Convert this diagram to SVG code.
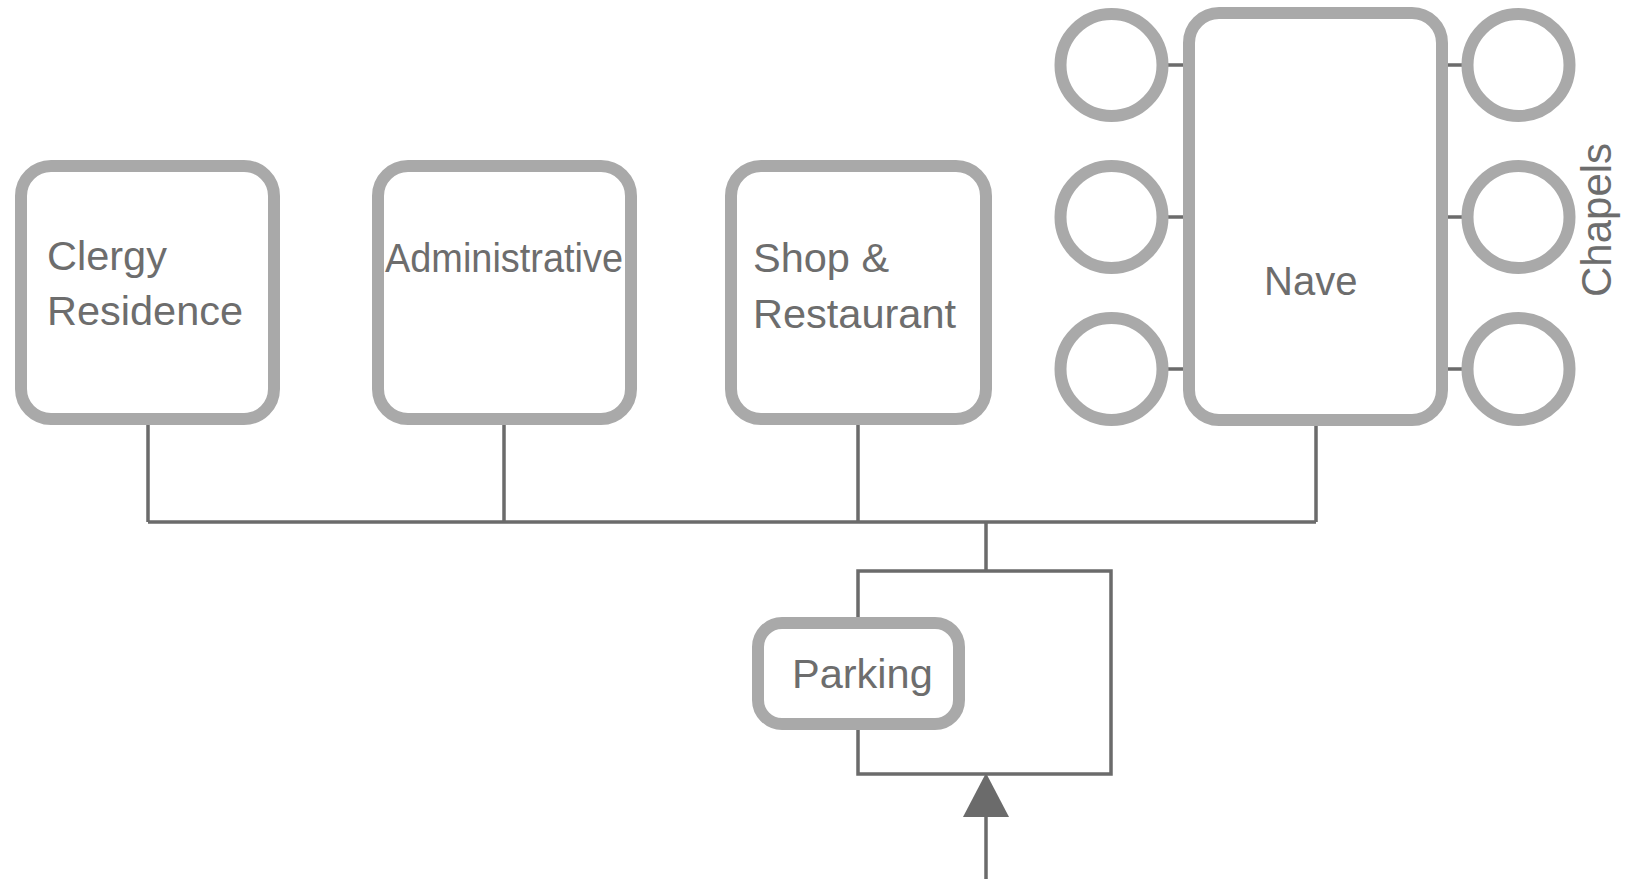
<svg xmlns="http://www.w3.org/2000/svg" width="1627" height="879" viewBox="0 0 1627 879">
<style>
.box{fill:#fff;stroke:#a9a9a9;stroke-width:12}
.lbl{font-family:"Liberation Sans",Arial,sans-serif;font-size:41.5px;fill:#6d6d6d}
.ln{fill:none;stroke:#6b6b6b;stroke-width:3.5}
</style>
<rect width="1627" height="879" fill="#fff"/>
<g id="connectors">
<path class="ln" d="M148 425V522M504 425V522M858 425V522M1316 426V522M148 522H1316"/>
<path class="ln" d="M986 522V571M858 617V571H1111V774H858V730"/>
<path class="ln" d="M986 879V815"/>
<polygon points="986,773 963,817 1009,817" fill="#6b6b6b"/>
<path class="ln" d="M1168 65H1183M1168 217H1183M1168 369H1183M1448 65H1462M1448 217H1462M1448 369H1462"/>
</g>
<g id="clergy">
<rect class="box" x="21" y="166" width="253" height="253" rx="30"/>
<text class="lbl" x="47" y="270">Clergy</text>
<text class="lbl" x="47" y="325">Residence</text>
</g>
<g id="administrative">
<rect class="box" x="378" y="166" width="253" height="253" rx="30"/>
<text class="lbl" x="385" y="272" textLength="238" lengthAdjust="spacingAndGlyphs">Administrative</text>
</g>
<g id="shop">
<rect class="box" x="731" y="166" width="255" height="253" rx="30"/>
<text class="lbl" x="753" y="272">Shop &amp;</text>
<text class="lbl" x="753" y="328">Restaurant</text>
</g>
<g id="nave">
<rect class="box" x="1189" y="13" width="253" height="407" rx="30"/>
<text class="lbl" x="1264" y="295" style="font-size:40px">Nave</text>
</g>
<g id="chapels">
<circle class="box" cx="1111.5" cy="65" r="51"/>
<circle class="box" cx="1111.5" cy="217" r="51"/>
<circle class="box" cx="1111.5" cy="369" r="51"/>
<circle class="box" cx="1518.5" cy="65" r="51"/>
<circle class="box" cx="1518.5" cy="217" r="51"/>
<circle class="box" cx="1518.5" cy="369" r="51"/>
<text class="lbl" transform="translate(1611,297) rotate(-90)" style="font-size:42px">Chapels</text>
</g>
<g id="parking">
<rect class="box" x="758" y="623" width="201" height="101" rx="24"/>
<text class="lbl" x="792" y="688">Parking</text>
</g>
</svg>
